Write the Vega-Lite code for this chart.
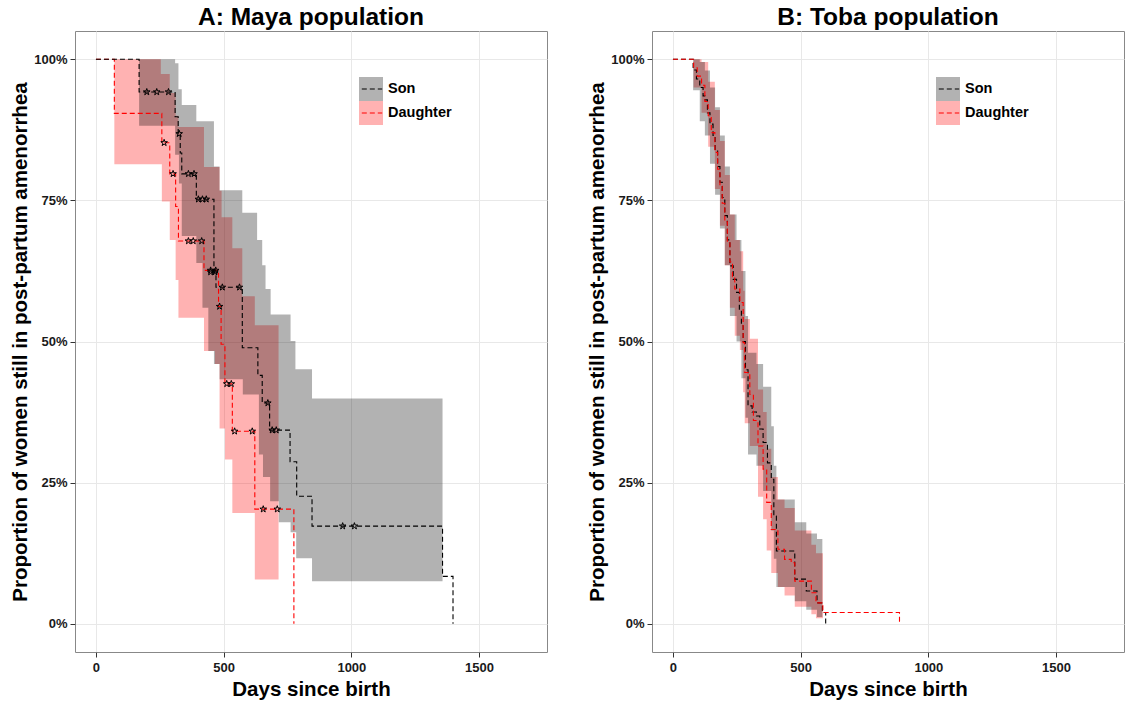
{
  "$schema": "https://vega.github.io/schema/vega-lite/v6.json",
  "background": "white",
  "padding": {"left": 10, "top": 4, "right": 0, "bottom": 0},
  "spacing": 39,
  "config": {
    "font": "Liberation Sans",
    "view": {"stroke": "#888888", "strokeWidth": 1},
    "axis": {
      "grid": true, "gridColor": "#e8e8e8", "gridWidth": 1, "domain": false,
      "tickColor": "#333333", "tickSize": 5, "tickWidth": 1,
      "labelFont": "Liberation Sans", "labelFontSize": 13, "labelFontWeight": "bold", "labelColor": "#1a1a1a",
      "titleFont": "Liberation Sans", "titleFontSize": 20.5, "titleFontWeight": "bold", "titleColor": "#000000"
    },
    "title": {"font": "Liberation Sans", "fontSize": 24.5, "fontWeight": "bold", "color": "#000000", "anchor": "middle", "baseline": "alphabetic", "offset": 1},
    "legend": {"labelFont": "Liberation Sans", "labelFontSize": 14.5, "labelFontWeight": "bold", "labelColor": "#000000"}
  },
  "resolve": {
    "scale": {"fill": "independent", "stroke": "independent"},
    "legend": {"fill": "independent", "stroke": "independent"}
  },
  "datasets": {
    "bands": [
      {"panel": "A", "sex": "Son", "day": 169, "lo": 88.2, "hi": 100},
      {"panel": "A", "sex": "Son", "day": 310, "lo": 83.1, "hi": 99.3},
      {"panel": "A", "sex": "Son", "day": 323, "lo": 83.1, "hi": 94.7},
      {"panel": "A", "sex": "Son", "day": 325, "lo": 78, "hi": 94.7},
      {"panel": "A", "sex": "Son", "day": 336, "lo": 68.7, "hi": 91.9},
      {"panel": "A", "sex": "Son", "day": 393, "lo": 63.9, "hi": 89.0},
      {"panel": "A", "sex": "Son", "day": 417, "lo": 56, "hi": 89.0},
      {"panel": "A", "sex": "Son", "day": 440, "lo": 48.3, "hi": 89.0},
      {"panel": "A", "sex": "Son", "day": 462, "lo": 46, "hi": 81.0},
      {"panel": "A", "sex": "Son", "day": 484, "lo": 43.3, "hi": 76.8},
      {"panel": "A", "sex": "Son", "day": 573, "lo": 43.3, "hi": 72.8},
      {"panel": "A", "sex": "Son", "day": 575, "lo": 40.6, "hi": 72.8},
      {"panel": "A", "sex": "Son", "day": 631, "lo": 40.6, "hi": 68.0},
      {"panel": "A", "sex": "Son", "day": 638, "lo": 30, "hi": 68.0},
      {"panel": "A", "sex": "Son", "day": 651, "lo": 30, "hi": 63.5},
      {"panel": "A", "sex": "Son", "day": 654, "lo": 26, "hi": 63.5},
      {"panel": "A", "sex": "Son", "day": 664, "lo": 26, "hi": 59.3},
      {"panel": "A", "sex": "Son", "day": 682, "lo": 21.7, "hi": 59.3},
      {"panel": "A", "sex": "Son", "day": 684, "lo": 21.7, "hi": 54.8},
      {"panel": "A", "sex": "Son", "day": 716, "lo": 18, "hi": 54.8},
      {"panel": "A", "sex": "Son", "day": 762, "lo": 16.2, "hi": 50.1},
      {"panel": "A", "sex": "Son", "day": 781, "lo": 16.2, "hi": 45.1},
      {"panel": "A", "sex": "Son", "day": 784, "lo": 11.6, "hi": 45.1},
      {"panel": "A", "sex": "Son", "day": 846, "lo": 7.55, "hi": 39.9},
      {"panel": "A", "sex": "Son", "day": 1357, "lo": 7.55, "hi": 39.9},
      {"panel": "A", "sex": "Daughter", "day": 72, "lo": 81.4, "hi": 100},
      {"panel": "A", "sex": "Daughter", "day": 254, "lo": 81.4, "hi": 97.4},
      {"panel": "A", "sex": "Daughter", "day": 258, "lo": 74.8, "hi": 97.4},
      {"panel": "A", "sex": "Daughter", "day": 289, "lo": 68.0, "hi": 94},
      {"panel": "A", "sex": "Daughter", "day": 312, "lo": 60.9, "hi": 90},
      {"panel": "A", "sex": "Daughter", "day": 323, "lo": 54.2, "hi": 88},
      {"panel": "A", "sex": "Daughter", "day": 423, "lo": 48.3, "hi": 80.9},
      {"panel": "A", "sex": "Daughter", "day": 466, "lo": 46, "hi": 80.9},
      {"panel": "A", "sex": "Daughter", "day": 484, "lo": 34.6, "hi": 76.7},
      {"panel": "A", "sex": "Daughter", "day": 492, "lo": 34.6, "hi": 72},
      {"panel": "A", "sex": "Daughter", "day": 505, "lo": 29.1, "hi": 72},
      {"panel": "A", "sex": "Daughter", "day": 534, "lo": 19.6, "hi": 66.5},
      {"panel": "A", "sex": "Daughter", "day": 573, "lo": 19.6, "hi": 58},
      {"panel": "A", "sex": "Daughter", "day": 622, "lo": 7.85, "hi": 52.9},
      {"panel": "A", "sex": "Daughter", "day": 715, "lo": 7.85, "hi": 52.9},
      {"panel": "B", "sex": "Son", "day": 79, "lo": 94.5, "hi": 100},
      {"panel": "B", "sex": "Son", "day": 105, "lo": 89, "hi": 99.5},
      {"panel": "B", "sex": "Son", "day": 125, "lo": 86.5, "hi": 98},
      {"panel": "B", "sex": "Son", "day": 145, "lo": 81.5, "hi": 95},
      {"panel": "B", "sex": "Son", "day": 165, "lo": 76, "hi": 91.5},
      {"panel": "B", "sex": "Son", "day": 184, "lo": 70, "hi": 86.5},
      {"panel": "B", "sex": "Son", "day": 203, "lo": 63.5, "hi": 81},
      {"panel": "B", "sex": "Son", "day": 223, "lo": 54.5, "hi": 72.5},
      {"panel": "B", "sex": "Son", "day": 249, "lo": 50, "hi": 68},
      {"panel": "B", "sex": "Son", "day": 268, "lo": 43.5, "hi": 62.5},
      {"panel": "B", "sex": "Son", "day": 284, "lo": 36.5, "hi": 54.5},
      {"panel": "B", "sex": "Son", "day": 294, "lo": 30, "hi": 48},
      {"panel": "B", "sex": "Son", "day": 327, "lo": 28, "hi": 46},
      {"panel": "B", "sex": "Son", "day": 353, "lo": 23.5, "hi": 42},
      {"panel": "B", "sex": "Son", "day": 385, "lo": 16.5, "hi": 35},
      {"panel": "B", "sex": "Son", "day": 395, "lo": 11.5, "hi": 28},
      {"panel": "B", "sex": "Son", "day": 405, "lo": 6.5, "hi": 22},
      {"panel": "B", "sex": "Son", "day": 477, "lo": 4, "hi": 18},
      {"panel": "B", "sex": "Son", "day": 522, "lo": 2.5, "hi": 16},
      {"panel": "B", "sex": "Son", "day": 564, "lo": 1.2, "hi": 15},
      {"panel": "B", "sex": "Son", "day": 585, "lo": 1.2, "hi": 15},
      {"panel": "B", "sex": "Daughter", "day": 81, "lo": 95, "hi": 100},
      {"panel": "B", "sex": "Daughter", "day": 112, "lo": 90.5, "hi": 99.5},
      {"panel": "B", "sex": "Daughter", "day": 138, "lo": 84.5, "hi": 96},
      {"panel": "B", "sex": "Daughter", "day": 164, "lo": 77, "hi": 91},
      {"panel": "B", "sex": "Daughter", "day": 184, "lo": 70.5, "hi": 85.5},
      {"panel": "B", "sex": "Daughter", "day": 203, "lo": 63.5, "hi": 79.5},
      {"panel": "B", "sex": "Daughter", "day": 223, "lo": 56, "hi": 72.5},
      {"panel": "B", "sex": "Daughter", "day": 242, "lo": 51, "hi": 68},
      {"panel": "B", "sex": "Daughter", "day": 262, "lo": 48.5, "hi": 66},
      {"panel": "B", "sex": "Daughter", "day": 275, "lo": 41, "hi": 59},
      {"panel": "B", "sex": "Daughter", "day": 281, "lo": 35.5, "hi": 54},
      {"panel": "B", "sex": "Daughter", "day": 301, "lo": 31.5, "hi": 50.5},
      {"panel": "B", "sex": "Daughter", "day": 333, "lo": 22.5, "hi": 41.5},
      {"panel": "B", "sex": "Daughter", "day": 353, "lo": 18.5, "hi": 37.5},
      {"panel": "B", "sex": "Daughter", "day": 367, "lo": 13, "hi": 31},
      {"panel": "B", "sex": "Daughter", "day": 385, "lo": 9, "hi": 26},
      {"panel": "B", "sex": "Daughter", "day": 411, "lo": 6.5, "hi": 22},
      {"panel": "B", "sex": "Daughter", "day": 437, "lo": 5, "hi": 20.5},
      {"panel": "B", "sex": "Daughter", "day": 477, "lo": 3, "hi": 16.5},
      {"panel": "B", "sex": "Daughter", "day": 542, "lo": 1.7, "hi": 14},
      {"panel": "B", "sex": "Daughter", "day": 560, "lo": 1, "hi": 12.5},
      {"panel": "B", "sex": "Daughter", "day": 587, "lo": 1, "hi": 12.5}
    ],
    "lines": [
      {"panel": "A", "grp": "son", "day": 0, "surv": 100},
      {"panel": "A", "grp": "son", "day": 169, "surv": 94.2},
      {"panel": "A", "grp": "son", "day": 310, "surv": 89.8},
      {"panel": "A", "grp": "son", "day": 322, "surv": 86.8},
      {"panel": "A", "grp": "son", "day": 330, "surv": 83.4},
      {"panel": "A", "grp": "son", "day": 336, "surv": 79.7},
      {"panel": "A", "grp": "son", "day": 393, "surv": 75.2},
      {"panel": "A", "grp": "son", "day": 462, "surv": 62.3},
      {"panel": "A", "grp": "son", "day": 470, "surv": 59.6},
      {"panel": "A", "grp": "son", "day": 573, "surv": 48.9},
      {"panel": "A", "grp": "son", "day": 634, "surv": 44.0},
      {"panel": "A", "grp": "son", "day": 651, "surv": 39.1},
      {"panel": "A", "grp": "son", "day": 680, "surv": 34.3},
      {"panel": "A", "grp": "son", "day": 760, "surv": 28.7},
      {"panel": "A", "grp": "son", "day": 786, "surv": 22.6},
      {"panel": "A", "grp": "son", "day": 846, "surv": 17.3},
      {"panel": "A", "grp": "son", "day": 1357, "surv": 8.4},
      {"panel": "A", "grp": "son", "day": 1398, "surv": 0},
      {"panel": "A", "grp": "daughter", "day": 0, "surv": 100},
      {"panel": "A", "grp": "daughter", "day": 72, "surv": 90.4},
      {"panel": "A", "grp": "daughter", "day": 258, "surv": 85.2},
      {"panel": "A", "grp": "daughter", "day": 289, "surv": 79.7},
      {"panel": "A", "grp": "daughter", "day": 312, "surv": 73.9},
      {"panel": "A", "grp": "daughter", "day": 323, "surv": 67.8},
      {"panel": "A", "grp": "daughter", "day": 423, "surv": 62.6},
      {"panel": "A", "grp": "daughter", "day": 480, "surv": 56.2},
      {"panel": "A", "grp": "daughter", "day": 490, "surv": 49.5},
      {"panel": "A", "grp": "daughter", "day": 505, "surv": 42.5},
      {"panel": "A", "grp": "daughter", "day": 534, "surv": 34.1},
      {"panel": "A", "grp": "daughter", "day": 622, "surv": 20.3},
      {"panel": "A", "grp": "daughter", "day": 775, "surv": 0},
      {"panel": "B", "grp": "son", "day": 0, "surv": 100},
      {"panel": "B", "grp": "son", "day": 79, "surv": 98.1},
      {"panel": "B", "grp": "son", "day": 92, "surv": 96.5},
      {"panel": "B", "grp": "son", "day": 105, "surv": 95},
      {"panel": "B", "grp": "son", "day": 118, "surv": 93.5},
      {"panel": "B", "grp": "son", "day": 125, "surv": 92.8},
      {"panel": "B", "grp": "son", "day": 135, "surv": 90.5},
      {"panel": "B", "grp": "son", "day": 145, "surv": 88.5},
      {"panel": "B", "grp": "son", "day": 157, "surv": 86.5},
      {"panel": "B", "grp": "son", "day": 165, "surv": 84},
      {"panel": "B", "grp": "son", "day": 175, "surv": 81},
      {"panel": "B", "grp": "son", "day": 184, "surv": 78.2},
      {"panel": "B", "grp": "son", "day": 193, "surv": 75.5},
      {"panel": "B", "grp": "son", "day": 203, "surv": 72.3},
      {"panel": "B", "grp": "son", "day": 213, "surv": 68},
      {"panel": "B", "grp": "son", "day": 223, "surv": 63.4},
      {"panel": "B", "grp": "son", "day": 236, "surv": 61},
      {"panel": "B", "grp": "son", "day": 249, "surv": 58.7},
      {"panel": "B", "grp": "son", "day": 260, "surv": 55.5},
      {"panel": "B", "grp": "son", "day": 268, "surv": 52.8},
      {"panel": "B", "grp": "son", "day": 275, "surv": 50},
      {"panel": "B", "grp": "son", "day": 284, "surv": 45},
      {"panel": "B", "grp": "son", "day": 294, "surv": 38.6},
      {"panel": "B", "grp": "son", "day": 310, "surv": 37.5},
      {"panel": "B", "grp": "son", "day": 327, "surv": 36.8},
      {"panel": "B", "grp": "son", "day": 340, "surv": 34.5},
      {"panel": "B", "grp": "son", "day": 353, "surv": 32.1},
      {"panel": "B", "grp": "son", "day": 370, "surv": 28.5},
      {"panel": "B", "grp": "son", "day": 385, "surv": 25.6},
      {"panel": "B", "grp": "son", "day": 395, "surv": 19.1},
      {"panel": "B", "grp": "son", "day": 405, "surv": 12.9},
      {"panel": "B", "grp": "son", "day": 477, "surv": 7.9},
      {"panel": "B", "grp": "son", "day": 522, "surv": 5.8},
      {"panel": "B", "grp": "son", "day": 564, "surv": 3.7},
      {"panel": "B", "grp": "son", "day": 585, "surv": 2.0},
      {"panel": "B", "grp": "son", "day": 598, "surv": 0},
      {"panel": "B", "grp": "daughter", "day": 0, "surv": 100},
      {"panel": "B", "grp": "daughter", "day": 81, "surv": 98.5},
      {"panel": "B", "grp": "daughter", "day": 95, "surv": 97},
      {"panel": "B", "grp": "daughter", "day": 112, "surv": 95.4},
      {"panel": "B", "grp": "daughter", "day": 125, "surv": 92.5},
      {"panel": "B", "grp": "daughter", "day": 138, "surv": 90},
      {"panel": "B", "grp": "daughter", "day": 150, "surv": 87},
      {"panel": "B", "grp": "daughter", "day": 164, "surv": 83.5},
      {"panel": "B", "grp": "daughter", "day": 175, "surv": 80.5},
      {"panel": "B", "grp": "daughter", "day": 184, "surv": 77.5},
      {"panel": "B", "grp": "daughter", "day": 193, "surv": 74.5},
      {"panel": "B", "grp": "daughter", "day": 203, "surv": 71.2},
      {"panel": "B", "grp": "daughter", "day": 213, "surv": 67.5},
      {"panel": "B", "grp": "daughter", "day": 223, "surv": 64.1},
      {"panel": "B", "grp": "daughter", "day": 233, "surv": 61.5},
      {"panel": "B", "grp": "daughter", "day": 242, "surv": 59.3},
      {"panel": "B", "grp": "daughter", "day": 262, "surv": 56.9},
      {"panel": "B", "grp": "daughter", "day": 275, "surv": 49.8},
      {"panel": "B", "grp": "daughter", "day": 281, "surv": 44.5},
      {"panel": "B", "grp": "daughter", "day": 301, "surv": 40.6},
      {"panel": "B", "grp": "daughter", "day": 315, "surv": 36},
      {"panel": "B", "grp": "daughter", "day": 333, "surv": 31.5},
      {"panel": "B", "grp": "daughter", "day": 353, "surv": 27.4},
      {"panel": "B", "grp": "daughter", "day": 367, "surv": 21.5},
      {"panel": "B", "grp": "daughter", "day": 385, "surv": 16.7},
      {"panel": "B", "grp": "daughter", "day": 411, "surv": 13.2},
      {"panel": "B", "grp": "daughter", "day": 437, "surv": 11.4},
      {"panel": "B", "grp": "daughter", "day": 463, "surv": 10.8},
      {"panel": "B", "grp": "daughter", "day": 477, "surv": 7.55},
      {"panel": "B", "grp": "daughter", "day": 542, "surv": 5.5},
      {"panel": "B", "grp": "daughter", "day": 560, "surv": 3.7},
      {"panel": "B", "grp": "daughter", "day": 587, "surv": 2.0},
      {"panel": "B", "grp": "daughter", "day": 887, "surv": 0}
    ],
    "stars": [
      {"panel": "A", "day": 199, "surv": 94.2},
      {"panel": "A", "day": 238, "surv": 94.2},
      {"panel": "A", "day": 284, "surv": 94.2},
      {"panel": "A", "day": 326, "surv": 86.8},
      {"panel": "A", "day": 362, "surv": 79.7},
      {"panel": "A", "day": 384, "surv": 79.7},
      {"panel": "A", "day": 401, "surv": 75.2},
      {"panel": "A", "day": 417, "surv": 75.2},
      {"panel": "A", "day": 432, "surv": 75.2},
      {"panel": "A", "day": 449, "surv": 62.3},
      {"panel": "A", "day": 466, "surv": 62.3},
      {"panel": "A", "day": 495, "surv": 59.6},
      {"panel": "A", "day": 562, "surv": 59.6},
      {"panel": "A", "day": 673, "surv": 39.1},
      {"panel": "A", "day": 690, "surv": 34.3},
      {"panel": "A", "day": 706, "surv": 34.3},
      {"panel": "A", "day": 966, "surv": 17.3},
      {"panel": "A", "day": 1012, "surv": 17.3},
      {"panel": "A", "day": 267, "surv": 85.2},
      {"panel": "A", "day": 302, "surv": 79.7},
      {"panel": "A", "day": 362, "surv": 67.8},
      {"panel": "A", "day": 381, "surv": 67.8},
      {"panel": "A", "day": 414, "surv": 67.8},
      {"panel": "A", "day": 449, "surv": 62.6},
      {"panel": "A", "day": 469, "surv": 62.6},
      {"panel": "A", "day": 484, "surv": 56.2},
      {"panel": "A", "day": 512, "surv": 42.5},
      {"panel": "A", "day": 530, "surv": 42.5},
      {"panel": "A", "day": 543, "surv": 34.1},
      {"panel": "A", "day": 612, "surv": 34.1},
      {"panel": "A", "day": 655, "surv": 20.3},
      {"panel": "A", "day": 710, "surv": 20.3}
    ]
  },
  "hconcat": [
    {
      "title": "A: Maya population",
      "width": 472,
      "height": 621,
      "layer": [
        {
          "data": {"name": "bands"},
          "transform": [{"filter": "datum.panel == 'A' && datum.sex == 'Daughter'"}],
          "mark": {"type": "area", "interpolate": "step-after", "opacity": 0.3},
          "encoding": {
            "x": {"field": "day", "type": "quantitative", "scale": {"domain": [-82, 1766], "nice": false, "zero": false}, "axis": {"values": [0, 500, 1000, 1500], "format": "d", "title": "Days since birth", "labelPadding": 4, "titlePadding": 5}},
            "y": {"field": "hi", "type": "quantitative", "stack": null, "scale": {"domain": [-5, 105], "nice": false, "zero": false}, "axis": {"values": [0, 25, 50, 75, 100], "labelExpr": "datum.value + '%'", "title": "Proportion of women still in post-partum amenorrhea", "labelPadding": 3, "titlePadding": 3}},
            "y2": {"field": "lo"},
            "fill": {"field": "sex", "type": "nominal", "scale": {"domain": ["Son", "Daughter"], "range": ["#000000", "#ff0000"]}, "legend": {"orient": "none", "legendX": 284, "legendY": 46, "title": null, "symbolType": "square", "symbolSize": 576, "symbolOpacity": 0.3, "symbolStrokeWidth": 0, "clipHeight": 24, "labelOffset": 5, "rowPadding": 0, "padding": 0, "zindex": 1}}
          }
        },
        {
          "data": {"name": "bands"},
          "transform": [{"filter": "datum.panel == 'A' && datum.sex == 'Son'"}],
          "mark": {"type": "area", "interpolate": "step-after", "opacity": 0.3},
          "encoding": {
            "x": {"field": "day", "type": "quantitative"},
            "y": {"field": "hi", "type": "quantitative", "stack": null},
            "y2": {"field": "lo"},
            "fill": {"field": "sex", "type": "nominal", "scale": {"domain": ["Son", "Daughter"], "range": ["#000000", "#ff0000"]}, "legend": {"orient": "none", "legendX": 284, "legendY": 46, "title": null, "symbolType": "square", "symbolSize": 576, "symbolOpacity": 0.3, "symbolStrokeWidth": 0, "clipHeight": 24, "labelOffset": 5, "rowPadding": 0, "padding": 0, "zindex": 1}}
          }
        },
        {
          "data": {"name": "lines"},
          "transform": [{"filter": "datum.panel == 'A' && datum.grp == 'daughter'"}],
          "mark": {"type": "line", "interpolate": "step-after", "strokeDash": [5, 3], "strokeWidth": 1.1},
          "encoding": {
            "x": {"field": "day", "type": "quantitative"},
            "y": {"field": "surv", "type": "quantitative"},
            "stroke": {"field": "grp", "type": "nominal", "scale": {"domain": ["son", "daughter"], "range": ["#000000", "#ff0000"]}, "legend": {"orient": "none", "legendX": 284, "legendY": 46, "title": null, "symbolType": "M-1,-1M-0.85,0L0.85,0M1,1", "symbolSize": 576, "symbolDash": [5, 3], "symbolStrokeWidth": 1.2, "symbolFillColor": "transparent", "clipHeight": 24, "labelExpr": "''", "labelOffset": 5, "rowPadding": 0, "padding": 0, "zindex": 2}}
          }
        },
        {
          "data": {"name": "lines"},
          "transform": [{"filter": "datum.panel == 'A' && datum.grp == 'son'"}],
          "mark": {"type": "line", "interpolate": "step-after", "strokeDash": [5, 3], "strokeWidth": 1.1},
          "encoding": {
            "x": {"field": "day", "type": "quantitative"},
            "y": {"field": "surv", "type": "quantitative"},
            "stroke": {"field": "grp", "type": "nominal", "scale": {"domain": ["son", "daughter"], "range": ["#000000", "#ff0000"]}, "legend": {"orient": "none", "legendX": 284, "legendY": 46, "title": null, "symbolType": "M-1,-1M-0.85,0L0.85,0M1,1", "symbolSize": 576, "symbolDash": [5, 3], "symbolStrokeWidth": 1.2, "symbolFillColor": "transparent", "clipHeight": 24, "labelExpr": "''", "labelOffset": 5, "rowPadding": 0, "padding": 0, "zindex": 2}}
          }
        },
        {
          "data": {"name": "stars"},
          "transform": [{"filter": "datum.panel == 'A'"}],
          "mark": {"type": "point", "shape": "M0,-1L0.2245,-0.309L0.9511,-0.309L0.3633,0.118L0.5878,0.809L0,0.382L-0.5878,0.809L-0.3633,0.118L-0.9511,-0.309L-0.2245,-0.309Z", "filled": false, "stroke": "#000000", "strokeWidth": 1, "size": 48, "opacity": 1},
          "encoding": {
            "x": {"field": "day", "type": "quantitative"},
            "y": {"field": "surv", "type": "quantitative"}
          }
        }
      ]
    },
    {
      "title": "B: Toba population",
      "width": 472,
      "height": 621,
      "layer": [
        {
          "data": {"name": "bands"},
          "transform": [{"filter": "datum.panel == 'B' && datum.sex == 'Daughter'"}],
          "mark": {"type": "area", "interpolate": "step-after", "opacity": 0.3},
          "encoding": {
            "x": {"field": "day", "type": "quantitative", "scale": {"domain": [-82, 1766], "nice": false, "zero": false}, "axis": {"values": [0, 500, 1000, 1500], "format": "d", "title": "Days since birth", "labelPadding": 4, "titlePadding": 5}},
            "y": {"field": "hi", "type": "quantitative", "stack": null, "scale": {"domain": [-5, 105], "nice": false, "zero": false}, "axis": {"values": [0, 25, 50, 75, 100], "labelExpr": "datum.value + '%'", "title": "Proportion of women still in post-partum amenorrhea", "labelPadding": 3, "titlePadding": 3}},
            "y2": {"field": "lo"},
            "fill": {"field": "sex", "type": "nominal", "scale": {"domain": ["Son", "Daughter"], "range": ["#000000", "#ff0000"]}, "legend": {"orient": "none", "legendX": 284, "legendY": 46, "title": null, "symbolType": "square", "symbolSize": 576, "symbolOpacity": 0.3, "symbolStrokeWidth": 0, "clipHeight": 24, "labelOffset": 5, "rowPadding": 0, "padding": 0, "zindex": 1}}
          }
        },
        {
          "data": {"name": "bands"},
          "transform": [{"filter": "datum.panel == 'B' && datum.sex == 'Son'"}],
          "mark": {"type": "area", "interpolate": "step-after", "opacity": 0.3},
          "encoding": {
            "x": {"field": "day", "type": "quantitative"},
            "y": {"field": "hi", "type": "quantitative", "stack": null},
            "y2": {"field": "lo"},
            "fill": {"field": "sex", "type": "nominal", "scale": {"domain": ["Son", "Daughter"], "range": ["#000000", "#ff0000"]}, "legend": {"orient": "none", "legendX": 284, "legendY": 46, "title": null, "symbolType": "square", "symbolSize": 576, "symbolOpacity": 0.3, "symbolStrokeWidth": 0, "clipHeight": 24, "labelOffset": 5, "rowPadding": 0, "padding": 0, "zindex": 1}}
          }
        },
        {
          "data": {"name": "lines"},
          "transform": [{"filter": "datum.panel == 'B' && datum.grp == 'son'"}],
          "mark": {"type": "line", "interpolate": "step-after", "strokeDash": [5, 3], "strokeWidth": 1.1},
          "encoding": {
            "x": {"field": "day", "type": "quantitative"},
            "y": {"field": "surv", "type": "quantitative"},
            "stroke": {"field": "grp", "type": "nominal", "scale": {"domain": ["son", "daughter"], "range": ["#000000", "#ff0000"]}, "legend": {"orient": "none", "legendX": 284, "legendY": 46, "title": null, "symbolType": "M-1,-1M-0.85,0L0.85,0M1,1", "symbolSize": 576, "symbolDash": [5, 3], "symbolStrokeWidth": 1.2, "symbolFillColor": "transparent", "clipHeight": 24, "labelExpr": "''", "labelOffset": 5, "rowPadding": 0, "padding": 0, "zindex": 2}}
          }
        },
        {
          "data": {"name": "lines"},
          "transform": [{"filter": "datum.panel == 'B' && datum.grp == 'daughter'"}],
          "mark": {"type": "line", "interpolate": "step-after", "strokeDash": [5, 3], "strokeWidth": 1.1},
          "encoding": {
            "x": {"field": "day", "type": "quantitative"},
            "y": {"field": "surv", "type": "quantitative"},
            "stroke": {"field": "grp", "type": "nominal", "scale": {"domain": ["son", "daughter"], "range": ["#000000", "#ff0000"]}, "legend": {"orient": "none", "legendX": 284, "legendY": 46, "title": null, "symbolType": "M-1,-1M-0.85,0L0.85,0M1,1", "symbolSize": 576, "symbolDash": [5, 3], "symbolStrokeWidth": 1.2, "symbolFillColor": "transparent", "clipHeight": 24, "labelExpr": "''", "labelOffset": 5, "rowPadding": 0, "padding": 0, "zindex": 2}}
          }
        }
      ]
    }
  ]
}
